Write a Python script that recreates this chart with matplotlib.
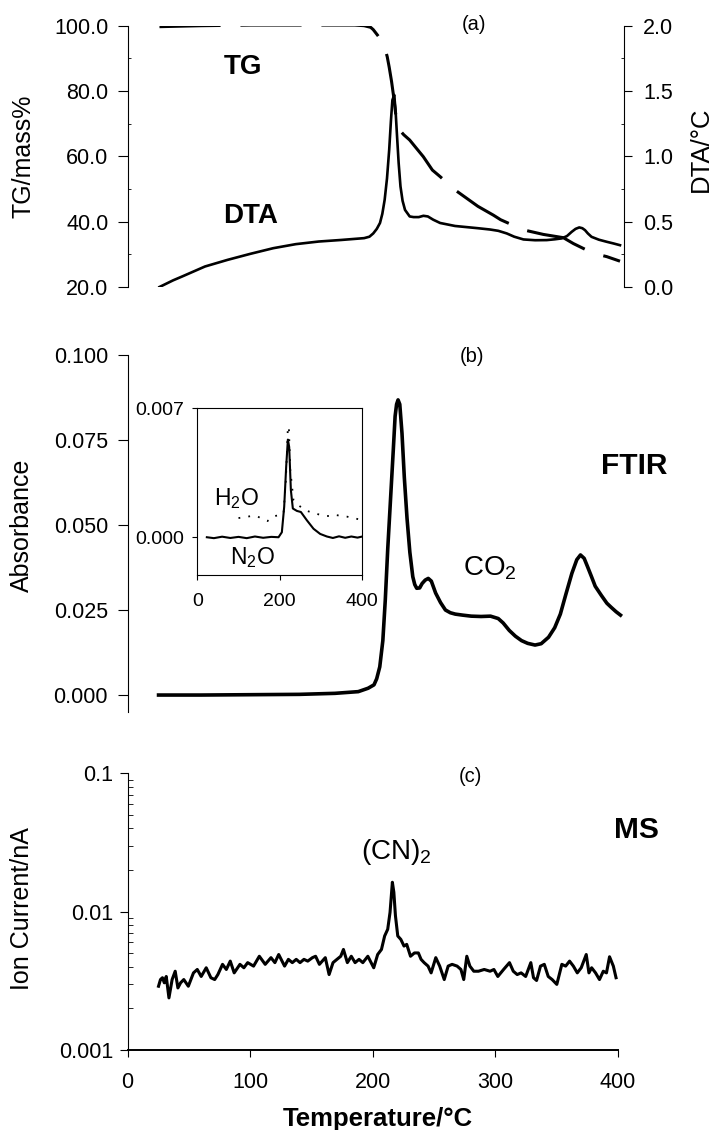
import matplotlib
matplotlib.use('Agg')
import matplotlib.pyplot as plt
from matplotlib.ticker import MultipleLocator, FormatStrFormatter, LogLocator, NullFormatter

plt.rcParams['font.family'] = ['Liberation Sans', 'DejaVu Sans']
plt.rcParams['mathtext.fontset'] = 'custom'
plt.rcParams['mathtext.rm'] = 'Liberation Sans'
plt.rcParams['mathtext.default'] = 'regular'

# (a) TG / DTA
tg_temp = [25.9, 60, 100, 150, 185, 192.7, 198, 200.1, 203.8, 207, 209.4, 211.5, 213.1, 215,
           216.8, 218.7, 220.5, 225, 229.8, 235, 240.9, 248.3, 254.6, 266.8, 285.4, 298, 303.9,
           322.4, 338.7, 355, 363.2, 379.5, 390.4, 401.2]
tg_mass = [99.7, 100.0, 100.2, 100.2, 100.2, 100.0, 99.5, 98.8, 97.0, 95.3, 93.4, 90.5, 87.3, 83.0,
           78.1, 72.0, 68.5, 66.6, 65.0, 62.6, 59.9, 55.8, 53.8, 49.7, 44.7, 42.0, 40.6,
           37.5, 36.1, 35.1, 33.3, 30.3, 29.3, 27.9]

dta_temp = [25.9, 37, 44.5, 63, 81.5, 100, 118.6, 137, 155.6, 174, 192.7, 197, 200.1, 203, 205.6,
            207.5, 209.4, 211.3, 213.1, 214.5, 215.7, 217.2, 218.3, 219.4, 220.8, 222.3, 224,
            226.0, 229.8, 233, 237.2, 241, 244.6, 249, 254.6, 266.8, 285.4, 295.3, 302, 308.9,
            315, 322.5, 332, 341.5, 348, 353.7, 358, 361.8, 365, 368.0, 370.5, 372.7, 375, 378.0,
            384, 390.4, 396, 401.2]
dta_val = [0.00, 0.051, 0.081, 0.157, 0.208, 0.254, 0.297, 0.328, 0.348, 0.36, 0.374, 0.385, 0.41,
           0.445, 0.49, 0.56, 0.667, 0.83, 1.05, 1.27, 1.43, 1.47, 1.35, 1.17, 0.95, 0.77, 0.66,
           0.59, 0.54, 0.535, 0.535, 0.545, 0.54, 0.515, 0.49, 0.467, 0.45, 0.44, 0.43, 0.41,
           0.385, 0.364, 0.358, 0.359, 0.365, 0.372, 0.39, 0.422, 0.445, 0.456, 0.45, 0.435, 0.41,
           0.384, 0.362, 0.346, 0.333, 0.32]

# (b) FTIR, CO2
co2_temp = [25.3, 60, 100, 140, 169, 188, 196, 200.8, 203, 205.5, 208, 210, 212, 215, 216.5, 218,
            219.2, 220.4, 221.8, 223.6, 225.5, 227.7, 230, 232.4, 234, 235.6, 238, 240, 242.5, 245,
            247.5, 251, 255, 259, 263, 267, 273, 280, 288, 295.7, 302, 306, 311, 316, 321, 326,
            332, 337, 343, 348, 352.6, 357, 362, 366, 369, 372, 374.7, 378, 381, 386, 390.5, 394,
            398, 401.6]
co2_abs = [0.0, 0.0, 0.0001, 0.0002, 0.0005, 0.001, 0.002, 0.003, 0.0048, 0.0083, 0.016, 0.028,
           0.043, 0.0623, 0.072, 0.082, 0.0855, 0.0868, 0.0855, 0.077, 0.064, 0.052, 0.042,
           0.0348, 0.0325, 0.0314, 0.0315, 0.0328, 0.0338, 0.0343, 0.0335, 0.030, 0.0272, 0.025,
           0.0242, 0.0238, 0.0235, 0.0232, 0.0231, 0.0232, 0.0225, 0.0212, 0.019, 0.0173, 0.016,
           0.0152, 0.0147, 0.0151, 0.017, 0.0198, 0.0238, 0.0295, 0.0358, 0.0398, 0.0412, 0.0402,
           0.0378, 0.0348, 0.032, 0.0293, 0.027, 0.0258, 0.0245, 0.0235]

# inset: N2O (solid) and H2O (dotted)
n2o_temp = [22.8, 40, 60, 80, 100, 120, 140, 160, 180, 197.5, 205.6, 211.3, 216.2, 220.3, 223.5,
            227.6, 232.4, 242.2, 252, 266.6, 282.8, 299, 315.4, 330, 345, 360, 375, 390, 400]
n2o_abs = [0.0, -0.00005, 0.00003, -0.00004, 0.00002, -0.00005, 0.00004, -0.00003, 0.00002, 0.0,
           0.00027, 0.00165, 0.00385, 0.0053, 0.0049, 0.00256, 0.00156, 0.00143, 0.00137,
           0.00092, 0.00046, 0.00018, 0.00004, -0.00004, 0.00005, -0.00003, 0.00004, -0.00002,
           0.00003]
h2o_temp = [99.9, 116.3, 128.5, 144.7, 156.9, 170.6, 185.3, 197.5, 209.7, 215.4, 220.3, 222.7,
            226, 234, 242.2, 254.5, 266.6, 282.8, 303.2, 323.5, 335, 364, 400]
h2o_abs = [0.00104, 0.0011, 0.00114, 0.00115, 0.001, 0.00088, 0.00114, 0.00119, 0.00128, 0.0031,
           0.0060, 0.0060, 0.0037, 0.0020, 0.0018, 0.0016, 0.00143, 0.00132, 0.00119, 0.00114,
           0.00121, 0.00112, 0.00094]

# (c) MS, (CN)2
ms_temp = [25.3, 26.9, 28.5, 30.0, 31.6, 33.8, 36.4, 38.9, 41.1, 43.3, 45.9, 49.6, 53.8, 56.9,
           60.1, 64.2, 68.0, 71.1, 73.7, 77.5, 80.6, 83.8, 87.0, 91.7, 94.9, 98.0, 102.8, 107.5,
           112.3, 117.0, 120.2, 123.3, 128.1, 131.2, 134.4, 137.6, 140.7, 143.9, 147.0, 150.8,
           153.4, 156.5, 161.3, 164.4, 167.6, 170.8, 173.9, 176.1, 179.3, 182.5, 185.6, 188.8,
           191.9, 196.0, 200.8, 204.0, 207.1, 209.7, 212.2, 214.1, 216.0, 217.2, 218.5, 220.4,
           222.9, 225.5, 227.7, 230.8, 234.0, 237.2, 239.4, 241.9, 245.1, 247.6, 251.4, 254.6,
           258.3, 261.5, 264.7, 268.8, 271.9, 274.2, 276.7, 279.2, 282.4, 286.2, 290.9, 295.7,
           298.8, 302.0, 306.7, 311.5, 314.6, 317.8, 321.0, 324.7, 328.9, 331.1, 333.6, 336.8,
           339.9, 343.1, 346.3, 350.1, 354.2, 357.3, 360.5, 363.6, 366.8, 370.0, 374.1, 376.3,
           378.5, 381.7, 384.9, 388.0, 390.6, 393.1, 396.2, 398.4]
ms_current = [0.00289, 0.00323, 0.00333, 0.00306, 0.0034, 0.00238, 0.00323, 0.00371, 0.00281,
              0.00306, 0.00323, 0.00289, 0.00361, 0.00382, 0.0034, 0.00393, 0.00333, 0.00323,
              0.00351, 0.00416, 0.00382, 0.00439, 0.00361, 0.00416, 0.00393, 0.00428, 0.00404,
              0.00476, 0.00416, 0.00465, 0.00428, 0.0049, 0.00404, 0.00452, 0.00428, 0.00452,
              0.00428, 0.00452, 0.00439, 0.00465, 0.00476, 0.00416, 0.00465, 0.00351, 0.00428,
              0.00452, 0.00476, 0.00533, 0.00428, 0.00476, 0.00428, 0.00452, 0.00428, 0.00476,
              0.00393, 0.0049, 0.00533, 0.00667, 0.00746, 0.00989, 0.01631, 0.01382, 0.00935,
              0.00667, 0.0063, 0.00564, 0.0058, 0.00476, 0.00503, 0.00503, 0.00452, 0.00428,
              0.00404, 0.00361, 0.00465, 0.00404, 0.00323, 0.00404, 0.00416, 0.00404, 0.00382,
              0.00323, 0.00476, 0.00404, 0.00371, 0.00371, 0.00382, 0.00371, 0.00382, 0.0034,
              0.00382, 0.00428, 0.00371, 0.00351, 0.00361, 0.0034, 0.00428, 0.00333, 0.00318,
              0.00404, 0.00416, 0.0034, 0.00323, 0.00298, 0.00416, 0.00404, 0.00439, 0.00404,
              0.00361, 0.00393, 0.0049, 0.00361, 0.00393, 0.00361, 0.00323, 0.00371, 0.00361,
              0.00472, 0.00404, 0.00333]

tg_ticks = [20, 40, 60, 80, 100]
dta_ticks = [0.0, 0.5, 1.0, 1.5, 2.0]
abs_ticks = [0.000, 0.025, 0.050, 0.075, 0.100]
ms_ticks = [0.001, 0.01, 0.1]
ms_tick_labels = ['0.001', '0.01', '0.1']
temp_ticks = [0, 100, 200, 300, 400]

W, H = 715, 1130
fig = plt.figure(figsize=(W / 100, H / 100), dpi=100)


def box(left, top, right, bottom):
    # pixel box -> figure fraction
    return [left / W, 1 - bottom / H, (right - left) / W, (bottom - top) / H]


tick_kw = dict(direction='out', width=0.8, labelsize=15.5)

# ---- panel (a)
ax_a = fig.add_axes(box(127.7, 25.7, 624.3, 287))
ax_a.plot(tg_temp, tg_mass, color='black', lw=2.2, linestyle=(0, (20, 6.5)))
ax_a.set_xlim(0, 404.7)
ax_a.set_ylim(20, 100)
ax_a.set_yticks(tg_ticks)
ax_a.yaxis.set_major_formatter(FormatStrFormatter('%.1f'))
ax_a.yaxis.set_minor_locator(MultipleLocator(10))
ax_a.tick_params(axis='y', length=7, pad=7, **tick_kw)
ax_a.tick_params(axis='y', which='minor', direction='in', length=2.5, width=0.6)
ax_a.set_xticks([])
for s in ['top', 'bottom', 'right']:
    ax_a.spines[s].set_visible(False)
ax_a.spines['left'].set_linewidth(0.8)

ax_d = ax_a.twinx()
ax_d.plot(dta_temp, dta_val, color='black', lw=1.9)
ax_d.set_ylim(0, 2.0)
ax_d.set_yticks(dta_ticks)
ax_d.yaxis.set_major_formatter(FormatStrFormatter('%.1f'))
ax_d.yaxis.set_minor_locator(MultipleLocator(0.25))
ax_d.tick_params(axis='y', length=6, pad=7.5, **tick_kw)
ax_d.tick_params(axis='y', which='minor', direction='in', length=2.5, width=0.6)
for s in ['top', 'bottom', 'left']:
    ax_d.spines[s].set_visible(False)
ax_d.spines['right'].set_linewidth(0.8)

ax_a.text(282, 100.5, '(a)', fontsize=14.5, ha='center', va='center')
ax_a.text(94, 87.4, 'TG', fontsize=20, fontweight='bold', ha='center', va='center')
ax_a.text(100, 41.7, 'DTA', fontsize=20, fontweight='bold', ha='center', va='center')

# ---- panel (b)
ax_b = fig.add_axes(box(127.5, 355, 624.3, 711.7))
ax_b.plot(co2_temp, co2_abs, color='black', lw=2.6)
ax_b.set_xlim(0, 404.7)
ax_b.set_ylim(-0.0049, 0.100)
ax_b.set_yticks(abs_ticks)
ax_b.yaxis.set_major_formatter(FormatStrFormatter('%.3f'))
ax_b.tick_params(axis='y', length=7, pad=7, **tick_kw)
ax_b.set_xticks([])
for s in ['top', 'bottom', 'right']:
    ax_b.spines[s].set_visible(False)
ax_b.spines['left'].set_linewidth(0.8)
ax_b.text(280.5, 0.0995, '(b)', fontsize=14.5, ha='center', va='center')
ax_b.text(413, 0.0674, 'FTIR', fontsize=21.5, fontweight='bold', ha='center', va='center')
ax_b.text(295, 0.0372, 'CO$_2$', fontsize=20, ha='center', va='center')

# inset
ax_i = fig.add_axes(box(197.5, 408.3, 361.6, 575))
ax_i.plot(n2o_temp, n2o_abs, color='black', lw=1.5)
ax_i.plot(h2o_temp, h2o_abs, color='black', lw=1.3, linestyle=(0, (1, 4.5)))
ax_i.set_xlim(0, 400)
ax_i.set_ylim(-0.00205, 0.007)
ax_i.set_yticks([0.000, 0.007])
ax_i.yaxis.set_major_formatter(FormatStrFormatter('%.3f'))
ax_i.set_xticks([0, 200, 400])
ax_i.tick_params(axis='y', length=3.4, pad=6, direction='out', width=0.8, labelsize=14)
ax_i.tick_params(axis='x', length=3.6, pad=9, direction='out', width=0.8, labelsize=14)
for s in ax_i.spines.values():
    s.set_linewidth(0.8)
ax_i.text(95.5, 0.0021, 'H$_2$O', fontsize=16.5, ha='center', va='center')
ax_i.text(133.6, -0.0011, 'N$_2$O', fontsize=16.5, ha='center', va='center')

# ---- panel (c)
ax_c = fig.add_axes(box(127.5, 773.3, 618, 1050))
ax_c.plot(ms_temp, ms_current, color='black', lw=2.2)
ax_c.set_yscale('log')
ax_c.set_xlim(0, 400)
ax_c.set_ylim(0.001, 0.1)
ax_c.set_yticks(ms_ticks, ms_tick_labels)
ax_c.yaxis.set_minor_locator(LogLocator(base=10, subs=range(2, 10)))
ax_c.yaxis.set_minor_formatter(NullFormatter())
ax_c.tick_params(axis='y', length=5.5, pad=4.5, **tick_kw)
ax_c.tick_params(axis='y', which='minor', direction='in', length=3.5, width=0.6)
ax_c.set_xticks(temp_ticks)
ax_c.tick_params(axis='x', length=4.8, pad=11, **tick_kw)
for s in ['top', 'right']:
    ax_c.spines[s].set_visible(False)
ax_c.spines['left'].set_linewidth(0.8)
ax_c.spines['bottom'].set_linewidth(1.4)
ax_c.text(279.5, 0.0946, '(c)', fontsize=14.5, ha='center', va='center')
ax_c.text(415, 0.039, 'MS', fontsize=21.5, fontweight='bold', ha='center', va='center')
ax_c.text(219, 0.027, '(CN)$_2$', fontsize=20, ha='center', va='center')

# axis titles placed in pixel positions
fig.text(24 / W, 1 - 156 / H, 'TG/mass%', rotation=90, fontsize=18, ha='center', va='center')
fig.text(701 / W, 1 - 149 / H, 'DTA/°C', rotation=90, fontsize=18.5, ha='center', va='center')
fig.text(22 / W, 1 - 525 / H, 'Absorbance', rotation=90, fontsize=18, ha='center', va='center')
fig.text(22 / W, 1 - 909 / H, 'Ion Current/nA', rotation=90, fontsize=18, ha='center',
         va='center')
fig.text(378 / W, 1 - 1126 / H, 'Temperature/°C', fontsize=18.5, fontweight='bold',
         ha='center', va='baseline')

fig.savefig('out.png', dpi=100)
